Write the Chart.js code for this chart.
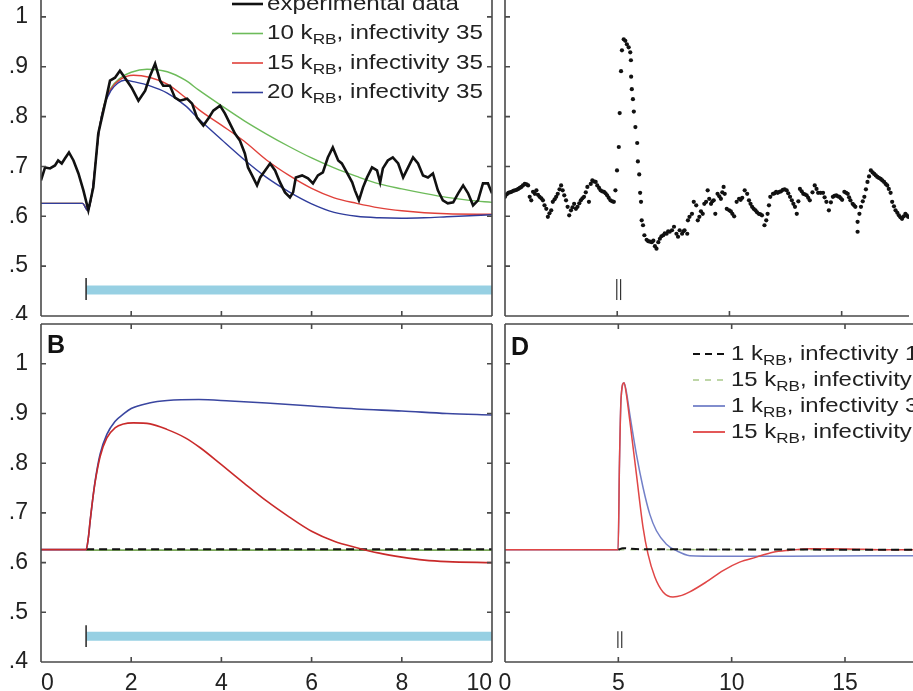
<!DOCTYPE html>
<html>
<head>
<meta charset="utf-8">
<script src="https://cdn.jsdelivr.net/npm/chart.js@4.4.0/dist/chart.umd.min.js"></script>
<style>
  html, body { margin: 0; padding: 0; background: #fff; }
  body { width: 913px; height: 691px; overflow: hidden; position: relative; }
  canvas { position: absolute; }
</style>
</head>
<body>
<canvas id="panelA" width="510" height="350" style="left:0;top:-30px"></canvas>
<canvas id="panelC" width="418" height="350" style="left:495px;top:-30px"></canvas>
<canvas id="panelB" width="510" height="380" style="left:0;top:320px"></canvas>
<canvas id="panelD" width="418" height="380" style="left:495px;top:320px"></canvas>
<script>
// Ejes
const yTicks = [0.4, 0.5, 0.6, 0.7, 0.8, 0.9, 1];
const xTicksLeft = [0, 2, 4, 6, 8, 10];
const xTicksRight = [0, 5, 10, 15];
const yMin = 0.4, yMax = 1.08;

// Panel A: datos experimentales y modelos
const aExperimental = [[0,.672],[.09,.698],[.2,.696],[.31,.702],[.38,.712],[.46,.706],[.53,.716],[.62,.728],[.72,.712],[.83,.686],[.94,.652],[1.05,.612],[1.16,.658],[1.27,.766],[1.42,.826],[1.53,.872],[1.64,.878],[1.75,.892],[1.86,.878],[2.01,.858],[2.16,.832],[2.31,.852],[2.42,.882],[2.53,.906],[2.64,.872],[2.71,.862],[2.86,.862],[2.97,.838],[3.08,.832],[3.24,.836],[3.35,.826],[3.46,.798],[3.6,.782],[3.71,.796],[3.82,.812],[3.97,.822],[4.08,.806],[4.19,.786],[4.3,.766],[4.41,.752],[4.52,.726],[4.59,.698],[4.68,.682],[4.79,.662],[4.86,.678],[4.97,.692],[5.08,.706],[5.19,.692],[5.3,.668],[5.41,.648],[5.52,.638],[5.59,.648],[5.65,.678],[5.79,.682],[5.92,.676],[6.03,.666],[6.14,.682],[6.25,.688],[6.36,.718],[6.47,.738],[6.59,.712],[6.67,.706],[6.78,.688],[6.9,.668],[6.96,.652],[7.05,.632],[7.14,.658],[7.23,.678],[7.34,.698],[7.45,.692],[7.52,.668],[7.58,.696],[7.69,.712],[7.8,.718],[7.92,.706],[8.03,.678],[8.14,.698],[8.25,.718],[8.36,.706],[8.47,.682],[8.58,.678],[8.69,.686],[8.8,.652],[8.91,.632],[9.02,.626],[9.14,.628],[9.25,.646],[9.36,.662],[9.47,.646],[9.58,.622],[9.69,.632],[9.8,.666],[9.91,.666],[10,.646]];
const aModel10 = [[0,.626],[.92,.626],[1.04,.612],[1.12,.64],[1.2,.70],[1.3,.78],[1.4,.825],[1.55,.857],[1.75,.877],[2.0,.889],[2.35,.895],[2.8,.890],[3.2,.873],[3.5,.853],[4.0,.822],[4.5,.792],[5.0,.765],[5.5,.740],[6.0,.717],[6.5,.697],[7.0,.680],[7.5,.665],[8.0,.655],[8.5,.646],[9.0,.638],[9.5,.632],[10,.628]];
const aModel15 = [[0,.626],[.92,.626],[1.04,.612],[1.12,.64],[1.2,.70],[1.3,.78],[1.4,.823],[1.55,.855],[1.75,.874],[2.05,.883],[2.4,.879],[2.8,.865],[3.2,.838],[3.5,.814],[4.0,.783],[4.5,.751],[5.0,.713],[5.5,.682],[6.0,.656],[6.5,.637],[7.0,.626],[7.5,.617],[8.0,.611],[8.5,.607],[9.0,.605],[10,.604]];
const aModel20 = [[0,.626],[.92,.626],[1.04,.611],[1.12,.64],[1.2,.70],[1.3,.78],[1.4,.822],[1.55,.852],[1.7,.867],[1.85,.873],[2.1,.869],[2.4,.862],[2.8,.847],[3.2,.822],[3.5,.795],[4.0,.754],[4.5,.714],[5.0,.678],[5.5,.649],[6.0,.625],[6.5,.608],[7.0,.600],[7.5,.597],[8.0,.596],[8.5,.597],[9.0,.599],[10,.603]];
const legendA = ['experimental data', '10 k|RB|, infectivity 35', '15 k|RB|, infectivity 35', '20 k|RB|, infectivity 35'];

// Panel B: simulaciones
const bBlue = [[0,.626],[1.0,.626],[1.05,.650],[1.09,.684],[1.15,.730],[1.2,.764],[1.31,.818],[1.46,.858],[1.64,.884],[1.83,.899],[2.0,.910],[2.4,.921],[2.8,.926],[3.5,.928],[4.2,.925],[5.0,.921],[6.0,.915],[7.0,.909],[8.0,.905],[9.0,.900],[10,.897]];
const bRed = [[0,.626],[1.0,.626],[1.05,.650],[1.09,.684],[1.15,.730],[1.2,.762],[1.31,.813],[1.46,.851],[1.64,.871],[1.83,.879],[2.05,.881],[2.42,.879],[2.79,.868],[3.2,.851],[3.53,.831],[4.0,.797],[4.5,.760],[5.0,.724],[5.5,.692],[6.0,.663],[6.5,.643],[7.0,.630],[7.5,.619],[8.0,.611],[8.5,.605],[9.0,.602],[10,.600]];
const bBlackDash = [[1,.627],[10,.627]];
const bGreenDash = [[1,.625],[10,.625]];

// Panel C: puntos experimentales
const cDots = [[0,.639],[.08,.644],[.15,.647],[.22,.648],[.29,.649],[.37,.651],[.44,.652],[.52,.653],[.59,.655],[.66,.657],[.73,.659],[.8,.662],[.88,.665],[.96,.664],[1.03,.662],[1.1,.639],[1.17,.632],[1.25,.649],[1.33,.645],[1.4,.652],[1.47,.643],[1.54,.639],[1.62,.636],[1.69,.632],[1.76,.622],[1.84,.615],[1.91,.599],[1.98,.606],[2.06,.612],[2.13,.629],[2.21,.634],[2.28,.639],[2.35,.645],[2.43,.654],[2.5,.662],[2.57,.652],[2.64,.642],[2.72,.632],[2.79,.619],[2.86,.602],[2.94,.612],[3.01,.618],[3.08,.625],[3.16,.615],[3.23,.619],[3.31,.626],[3.38,.632],[3.45,.636],[3.52,.639],[3.6,.648],[3.67,.659],[3.74,.629],[3.82,.665],[3.89,.672],[3.96,.67],[4.04,.669],[4.11,.662],[4.19,.657],[4.26,.652],[4.33,.65],[4.41,.649],[4.48,.646],[4.55,.642],[4.62,.637],[4.7,.632],[4.78,.63],[4.85,.629],[4.92,.652],[4.99,.692],[5.07,.739],[5.11,.807],[5.17,.891],[5.21,.933],[5.29,.955],[5.36,.952],[5.43,.945],[5.51,.939],[5.58,.929],[5.61,.913],[5.62,.88],[5.65,.855],[5.7,.835],[5.74,.81],[5.81,.779],[5.89,.747],[5.92,.71],[5.98,.684],[6.02,.647],[6.06,.629],[6.09,.592],[6.15,.582],[6.21,.562],[6.31,.553],[6.38,.55],[6.46,.549],[6.54,.548],[6.61,.551],[6.68,.54],[6.75,.535],[6.83,.548],[6.9,.555],[6.97,.56],[7.05,.562],[7.12,.566],[7.2,.565],[7.27,.57],[7.34,.569],[7.44,.572],[7.53,.579],[7.64,.565],[7.71,.559],[7.78,.572],[7.89,.565],[7.95,.57],[8.0,.572],[8.12,.565],[8.15,.592],[8.22,.599],[8.33,.605],[8.41,.629],[8.52,.622],[8.59,.592],[8.66,.599],[8.73,.61],[8.81,.605],[8.88,.625],[8.96,.629],[9.03,.652],[9.1,.635],[9.18,.625],[9.24,.63],[9.3,.632],[9.37,.605],[9.47,.645],[9.55,.64],[9.62,.635],[9.68,.648],[9.74,.659],[9.79,.645],[9.88,.615],[9.99,.612],[10.06,.61],[10.13,.605],[10.21,.6],[10.32,.629],[10.43,.635],[10.5,.633],[10.57,.637],[10.68,.652],[10.79,.645],[10.87,.632],[10.94,.625],[11.01,.619],[11.08,.615],[11.16,.612],[11.23,.608],[11.31,.605],[11.38,.604],[11.45,.602],[11.56,.582],[11.64,.592],[11.7,.605],[11.76,.622],[11.82,.639],[11.94,.645],[12.01,.646],[12.08,.649],[12.15,.647],[12.23,.649],[12.3,.65],[12.38,.653],[12.46,.654],[12.55,.652],[12.62,.646],[12.7,.639],[12.78,.632],[12.85,.625],[12.92,.619],[13.0,.605],[13.07,.63],[13.14,.655],[13.22,.65],[13.29,.645],[13.36,.644],[13.44,.642],[13.51,.637],[13.58,.632],[13.7,.648],[13.8,.662],[13.88,.655],[13.95,.647],[14.06,.647],[14.17,.647],[14.24,.638],[14.32,.629],[14.43,.612],[14.52,.628],[14.61,.639],[14.68,.641],[14.76,.642],[14.83,.64],[14.9,.639],[14.96,.636],[15.02,.633],[15.12,.649],[15.2,.647],[15.27,.645],[15.33,.638],[15.39,.632],[15.49,.625],[15.55,.622],[15.61,.619],[15.71,.589],[15.71,.569],[15.79,.605],[15.86,.619],[15.94,.63],[16.01,.639],[16.08,.654],[16.15,.669],[16.22,.68],[16.3,.692],[16.38,.688],[16.45,.685],[16.52,.682],[16.59,.679],[16.66,.677],[16.74,.675],[16.81,.672],[16.89,.669],[16.96,.665],[17.03,.662],[17.1,.655],[17.18,.647],[17.25,.629],[17.33,.62],[17.4,.612],[17.48,.607],[17.55,.602],[17.62,.598],[17.69,.595],[17.77,.6],[17.84,.605],[17.9,.602],[17.96,.599]];

// Panel D: simulaciones
const dRed = [[0,.626],[4.99,.626],[5.05,.80],[5.12,.93],[5.25,.962],[5.35,.94],[5.51,.884],[5.8,.777],[6.09,.671],[6.31,.617],[6.61,.571],[6.97,.541],[7.41,.531],[7.8,.534],[8.15,.541],[8.88,.561],[9.62,.584],[10.35,.601],[11.09,.611],[11.82,.621],[12.55,.625],[13.5,.628],[14.5,.628],[15.5,.627],[16.5,.626],[18,.626]];
const dBlue = [[0,.626],[4.99,.626],[5.05,.80],[5.12,.93],[5.25,.962],[5.35,.945],[5.51,.897],[5.8,.817],[6.09,.751],[6.39,.697],[6.68,.664],[7.12,.637],[7.56,.624],[8.15,.614],[9.62,.613],[12.55,.613],[18,.614]];
const dBlackDash = [[5,.626],[5.2,.629],[5.5,.628],[6,.627],[18,.626]];
const dGreenDash = [[5,.626],[18,.626]];
const legendD = ['1 k|RB|, infectivity 10', '15 k|RB|, infectivity 10', '1 k|RB|, infectivity 35', '15 k|RB|, infectivity 35'];

// Marcas de estímulo
const stimBar = [[1,.452],[10,.452]];
const stimTickA = [[1,.432],[1,.476]];
const stimTickB = [[1,.430],[1,.474]];
const pulseC1 = [[4.98,.432],[4.98,.474]];
const pulseC2 = [[5.15,.432],[5.15,.474]];
const pulseD1 = [[4.98,.428],[4.98,.462]];
const pulseD2 = [[5.15,.428],[5.15,.462]];

const family = '"Liberation Sans", Arial, sans-serif';
const tickFont = { family: family, size: 23 };

function pts(pairs) {
  return pairs.map(p => ({ x: p[0], y: p[1] }));
}

function line(pairs, color, width, dash, smooth) {
  return {
    data: pts(pairs),
    showLine: true,
    borderColor: color,
    backgroundColor: color,
    borderWidth: width,
    borderDash: dash || [],
    borderCapStyle: 'butt',
    pointRadius: 0,
    cubicInterpolationMode: smooth ? 'monotone' : 'default',
    tension: 0
  };
}

function makeScales(o) {
  return {
    x: {
      type: 'linear', min: o.xMin, max: o.xMax,
      afterBuildTicks: s => { s.ticks = o.xTicks.map(v => ({ value: v })); },
      afterFit: s => { s.height = o.xHeight; s.paddingLeft = 0; s.paddingRight = 0; },
      grid: { display: false },
      border: { display: false },
      ticks: { display: o.xLabels, font: tickFont, color: '#222', padding: 0, maxRotation: 0, autoSkip: false, align: o.xAlign || 'center' }
    },
    y: {
      type: 'linear', min: yMin, max: yMax,
      afterBuildTicks: s => { s.ticks = yTicks.map(v => ({ value: v })); },
      afterFit: s => { s.width = o.yWidth; s.paddingTop = 0; s.paddingBottom = 0; },
      grid: { display: false },
      border: { display: false },
      ticks: {
        display: o.yLabels, font: tickFont, color: '#222', padding: 5,
        callback: v => v === 1 ? '1' : v.toFixed(1).slice(1)
      }
    }
  };
}

// Marco con marcas hacia dentro
const framePlugin = {
  id: 'frame',
  afterDraw(chart, args, opts) {
    const { ctx, chartArea: a } = chart;
    const xs = chart.scales.x, ys = chart.scales.y;
    const t = 5;
    ctx.save();
    ctx.strokeStyle = '#4a4a4a';
    ctx.lineWidth = 1.6;
    ctx.beginPath();
    ctx.moveTo(a.left, a.top); ctx.lineTo(a.left, a.bottom);
    ctx.moveTo(a.left, a.bottom); ctx.lineTo(a.right, a.bottom);
    ctx.moveTo(a.left, a.top); ctx.lineTo(a.right, a.top);
    if (opts.right) { ctx.moveTo(a.right, a.top); ctx.lineTo(a.right, a.bottom); }
    xs.ticks.forEach(tk => {
      const px = xs.getPixelForValue(tk.value);
      ctx.moveTo(px, a.bottom); ctx.lineTo(px, a.bottom - t);
      ctx.moveTo(px, a.top); ctx.lineTo(px, a.top + t);
    });
    ys.ticks.forEach(tk => {
      const py = ys.getPixelForValue(tk.value);
      ctx.moveTo(a.left, py); ctx.lineTo(a.left + t, py);
      if (opts.right) { ctx.moveTo(a.right, py); ctx.lineTo(a.right - t, py); }
    });
    ctx.stroke();
    ctx.restore();
  }
};

// Leyenda con subíndices y letra del panel
const keyPlugin = {
  id: 'key',
  afterDraw(chart, args, opts) {
    const ctx = chart.ctx;
    ctx.save();
    if (opts.letter) {
      ctx.font = 'bold 25px ' + family;
      ctx.fillStyle = '#111';
      ctx.textBaseline = 'alphabetic';
      ctx.fillText(opts.letter.text, opts.letter.x, opts.letter.y);
    }
    if (opts.labels) {
      opts.labels.forEach((label, i) => {
        const y = opts.y + i * opts.rowH;
        const st = opts.styles[i];
        ctx.strokeStyle = st.color;
        ctx.lineWidth = st.width;
        ctx.setLineDash(st.dash || []);
        ctx.beginPath();
        ctx.moveTo(opts.x, y);
        ctx.lineTo(opts.x + opts.len, y);
        ctx.stroke();
        ctx.setLineDash([]);
        ctx.save();
        ctx.translate(opts.textX, y);
        ctx.scale(opts.stretch, 1);
        ctx.fillStyle = '#222';
        ctx.textBaseline = 'middle';
        let tx = 0;
        label.split('|').forEach((part, k) => {
          const sub = k % 2 === 1;
          ctx.font = (sub ? Math.round(opts.size * 0.7) : opts.size) + 'px ' + family;
          ctx.fillText(part, tx, sub ? opts.size * 0.32 : 0);
          tx += ctx.measureText(part).width;
        });
        ctx.restore();
      });
    }
    ctx.restore();
  }
};

function makeChart(id, datasets, scales, layout, plugOpts) {
  return new Chart(document.getElementById(id), {
    type: 'scatter',
    data: { datasets: datasets },
    options: {
      responsive: false,
      animation: false,
      devicePixelRatio: 1,
      layout: { padding: layout },
      scales: scales,
      plugins: {
        legend: { display: false },
        tooltip: { enabled: false },
        frame: plugOpts.frame,
        key: plugOpts.key
      }
    },
    plugins: [framePlugin, keyPlugin]
  });
}

const black = '#111111';
const cyan = 'rgba(140, 203, 224, 0.9)';

// Panel A
makeChart('panelA', [
  line(aExperimental, black, 2.6),
  line(aModel20, '#303d9c', 1.4, null, true),
  line(aModel15, '#e0403a', 1.4, null, true),
  line(aModel10, '#6dbb5a', 1.4, null, true),
  line(stimTickA, '#333', 1.6),
  line(stimBar, cyan, 9)
], makeScales({ xMin: 0, xMax: 10, xTicks: xTicksLeft, xHeight: 4, xLabels: false, yWidth: 41, yLabels: true }),
  { left: 0, right: 18, top: 7, bottom: 0 },
  {
    frame: { right: true },
    key: {
      labels: legendA, x: 232, len: 31, textX: 267, y: 34, rowH: 29.5, size: 21, stretch: 1.15,
      styles: [
        { color: black, width: 2.6 },
        { color: '#6dbb5a', width: 1.6 },
        { color: '#e0403a', width: 1.6 },
        { color: '#303d9c', width: 1.6 }
      ]
    }
  });

// Panel C
makeChart('panelC', [
  {
    data: pts(cDots), showLine: false, pointRadius: 2.1, pointBorderWidth: 0,
    pointBackgroundColor: black, backgroundColor: black
  },
  line(pulseC1, '#333', 1.2),
  line(pulseC2, '#333', 1.2)
], makeScales({ xMin: 0, xMax: 18, xTicks: xTicksRight, xHeight: 4, xLabels: false, yWidth: 10, yLabels: false }),
  { left: 0, right: 0, top: 7, bottom: 0 },
  { frame: { right: false }, key: {} });

// Panel B
makeChart('panelB', [
  line(bRed, '#c92a2a', 1.6, null, true),
  line(bBlue, '#3a46a0', 1.6, null, true),
  line(bBlackDash, black, 2, [8, 5]),
  line(bGreenDash, '#7aa85a', 1.6),
  line(stimTickB, '#333', 1.6),
  line(stimBar, cyan, 9)
], makeScales({ xMin: 0, xMax: 10, xTicks: xTicksLeft, xHeight: 38, xLabels: true, xAlign: 'inner', yWidth: 41, yLabels: true }),
  { left: 0, right: 18, top: 4, bottom: 0 },
  { frame: { right: true }, key: { letter: { text: 'B', x: 47, y: 33 } } });

// Panel D
makeChart('panelD', [
  line(dBlackDash, black, 2, [8, 5], true),
  line(dRed, '#e04646', 1.5, null, true),
  line(dBlue, '#7380c8', 1.5, null, true),
  line(dGreenDash, '#a9c98a', 1.5, [6, 6]),
  line(pulseD1, '#333', 1.2),
  line(pulseD2, '#333', 1.2)
], makeScales({ xMin: 0, xMax: 18, xTicks: xTicksRight, xHeight: 38, xLabels: true, yWidth: 10, yLabels: false }),
  { left: 0, right: 0, top: 4, bottom: 0 },
  {
    frame: { right: false },
    key: {
      letter: { text: 'D', x: 16, y: 35 },
      labels: legendD, x: 198, len: 32, textX: 236, y: 34, rowH: 26, size: 21, stretch: 1.14,
      styles: [
        { color: black, width: 2, dash: [7, 5] },
        { color: '#a9c98a', width: 1.5, dash: [6, 6] },
        { color: '#7380c8', width: 1.8 },
        { color: '#e04646', width: 1.8 }
      ]
    }
  });
</script>
</body>
</html>
